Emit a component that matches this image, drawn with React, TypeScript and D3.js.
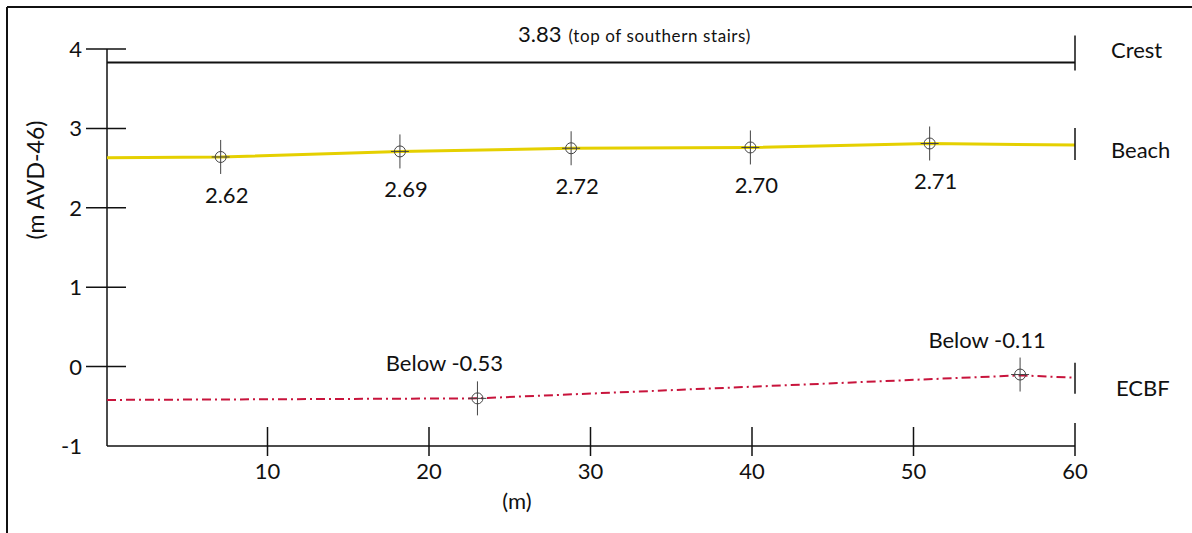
import React from "react";
import * as d3 from "d3";

// profile chainage ticks (m) and elevation ticks (m AVD-46)
const xTicks = [10, 20, 30, 40, 50, 60];
const yTicks = [4, 3, 2, 1, 0, -1];

// crest level (top of southern stairs)
const crestLevel = 3.83;

// beach line and survey points
const beachX = [0, 7.1, 18.2, 28.8, 39.9, 51.0, 60];
const beachY = [2.63, 2.64, 2.71, 2.75, 2.76, 2.81, 2.79];
const beachPtX = [7.1, 18.2, 28.8, 39.9, 51.0];
const beachPtY = [2.64, 2.71, 2.75, 2.76, 2.81];
const beachLabels = ["2.62", "2.69", "2.72", "2.70", "2.71"];

// ECBF line and points
const ecbfX = [0, 23.0, 56.6, 60];
const ecbfY = [-0.42, -0.4, -0.11, -0.14];
const ecbfPtX = [23.0, 56.6];
const ecbfPtY = [-0.4, -0.1];
const ecbfLabels = ["Below -0.53", "Below -0.11"];

const font = "Lato, 'Open Sans', sans-serif";
const ink = "#111";

function Marker({ cx, cy }: { cx: number; cy: number }) {
  return (
    <g stroke="#444" strokeWidth={1} fill="none">
      <line x1={cx} x2={cx} y1={cy - 17} y2={cy + 17} />
      <line x1={cx - 9} x2={cx + 9} y1={cy} y2={cy} />
      <circle cx={cx} cy={cy} r={5.5} />
    </g>
  );
}

export default function App() {
  const x = d3.scaleLinear().domain([0, 60]).range([106, 1075]);
  const y = d3.scaleLinear().domain([-1, 4]).range([446, 49]);
  const x0 = 107;
  const xEnd = x(60);

  const line = d3
    .line<[number, number]>()
    .x((d) => Math.max(x0, x(d[0])))
    .y((d) => y(d[1]));

  const beach = line(beachX.map((v, i) => [v, beachY[i]]));
  const ecbf = line(ecbfX.map((v, i) => [v, ecbfY[i]]));

  return (
    <svg
      width={1192}
      height={533}
      style={{ position: "absolute", left: 0, top: 0, background: "#fff" }}
      fontFamily={font}
      fill={ink}
    >
      {/* frame */}
      <line x1={7} x2={1192} y1={7} y2={7} stroke={ink} strokeWidth={2} />
      <line x1={7} x2={7} y1={7} y2={533} stroke={ink} strokeWidth={2} />

      {/* axes */}
      <line x1={x0} x2={x0} y1={y(4)} y2={y(-1)} stroke={ink} strokeWidth={1.5} />
      <line x1={x0} x2={xEnd} y1={y(-1)} y2={y(-1)} stroke={ink} strokeWidth={1.5} />

      {yTicks.map((t) => (
        <g key={"y" + t}>
          {t > -1 && (
            <line x1={86} x2={126} y1={y(t)} y2={y(t)} stroke={ink} strokeWidth={1.5} />
          )}
          <text x={82} y={y(t) + 8} textAnchor="end" fontSize={22}>
            {t}
          </text>
        </g>
      ))}

      {xTicks.map((t) => (
        <g key={"x" + t}>
          <line
            x1={x(t)}
            x2={x(t)}
            y1={y(-1) - (t === 60 ? 23 : 19)}
            y2={y(-1) + 10}
            stroke={ink}
            strokeWidth={1.5}
          />
          <text x={x(t)} y={479} textAnchor="middle" fontSize={22}>
            {t}
          </text>
        </g>
      ))}

      <text x={517} y={509} textAnchor="middle" fontSize={22}>
        (m)
      </text>
      <text
        transform={`translate(44,180) rotate(-90)`}
        textAnchor="middle"
        fontSize={23}
      >
        (m AVD-46)
      </text>

      {/* crest */}
      <line x1={x0} x2={xEnd} y1={y(crestLevel)} y2={y(crestLevel)} stroke={ink} strokeWidth={2} />
      <line x1={xEnd} x2={xEnd} y1={y(crestLevel) - 27} y2={y(crestLevel) + 8} stroke={ink} strokeWidth={1.5} />
      <text x={518} y={42} fontSize={22}>
        {crestLevel.toFixed(2)}
        <tspan fontSize={17} dx={7} letterSpacing={0.6}>
          (top of southern stairs)
        </tspan>
      </text>
      <text x={1111} y={58} fontSize={22}>
        Crest
      </text>

      {/* beach */}
      <path d={beach ?? ""} fill="none" stroke="#e5d000" strokeWidth={3} />
      <line x1={xEnd} x2={xEnd} y1={y(2.79) - 17} y2={y(2.79) + 15} stroke={ink} strokeWidth={1.5} />
      {beachPtX.map((v, i) => (
        <g key={"b" + i}>
          <Marker cx={x(v)} cy={y(beachPtY[i])} />
          <text x={x(v) + 6} y={y(beachPtY[i]) + 46} textAnchor="middle" fontSize={22}>
            {beachLabels[i]}
          </text>
        </g>
      ))}
      <text x={1111} y={158} fontSize={22}>
        Beach
      </text>

      {/* ECBF */}
      <path
        d={ecbf ?? ""}
        fill="none"
        stroke="#c8143c"
        strokeWidth={2}
        strokeDasharray="9 4 2 4"
      />
      <line x1={xEnd} x2={xEnd} y1={y(-0.14) - 15} y2={y(-0.14) + 16} stroke={ink} strokeWidth={1.5} />
      {ecbfPtX.map((v, i) => (
        <g key={"e" + i}>
          <Marker cx={x(v)} cy={y(ecbfPtY[i])} />
          <text x={x(v) - 33} y={y(ecbfPtY[i]) - 27} textAnchor="middle" fontSize={22}>
            {ecbfLabels[i]}
          </text>
        </g>
      ))}
      <text x={1116} y={396} fontSize={22}>
        ECBF
      </text>
    </svg>
  );
}
